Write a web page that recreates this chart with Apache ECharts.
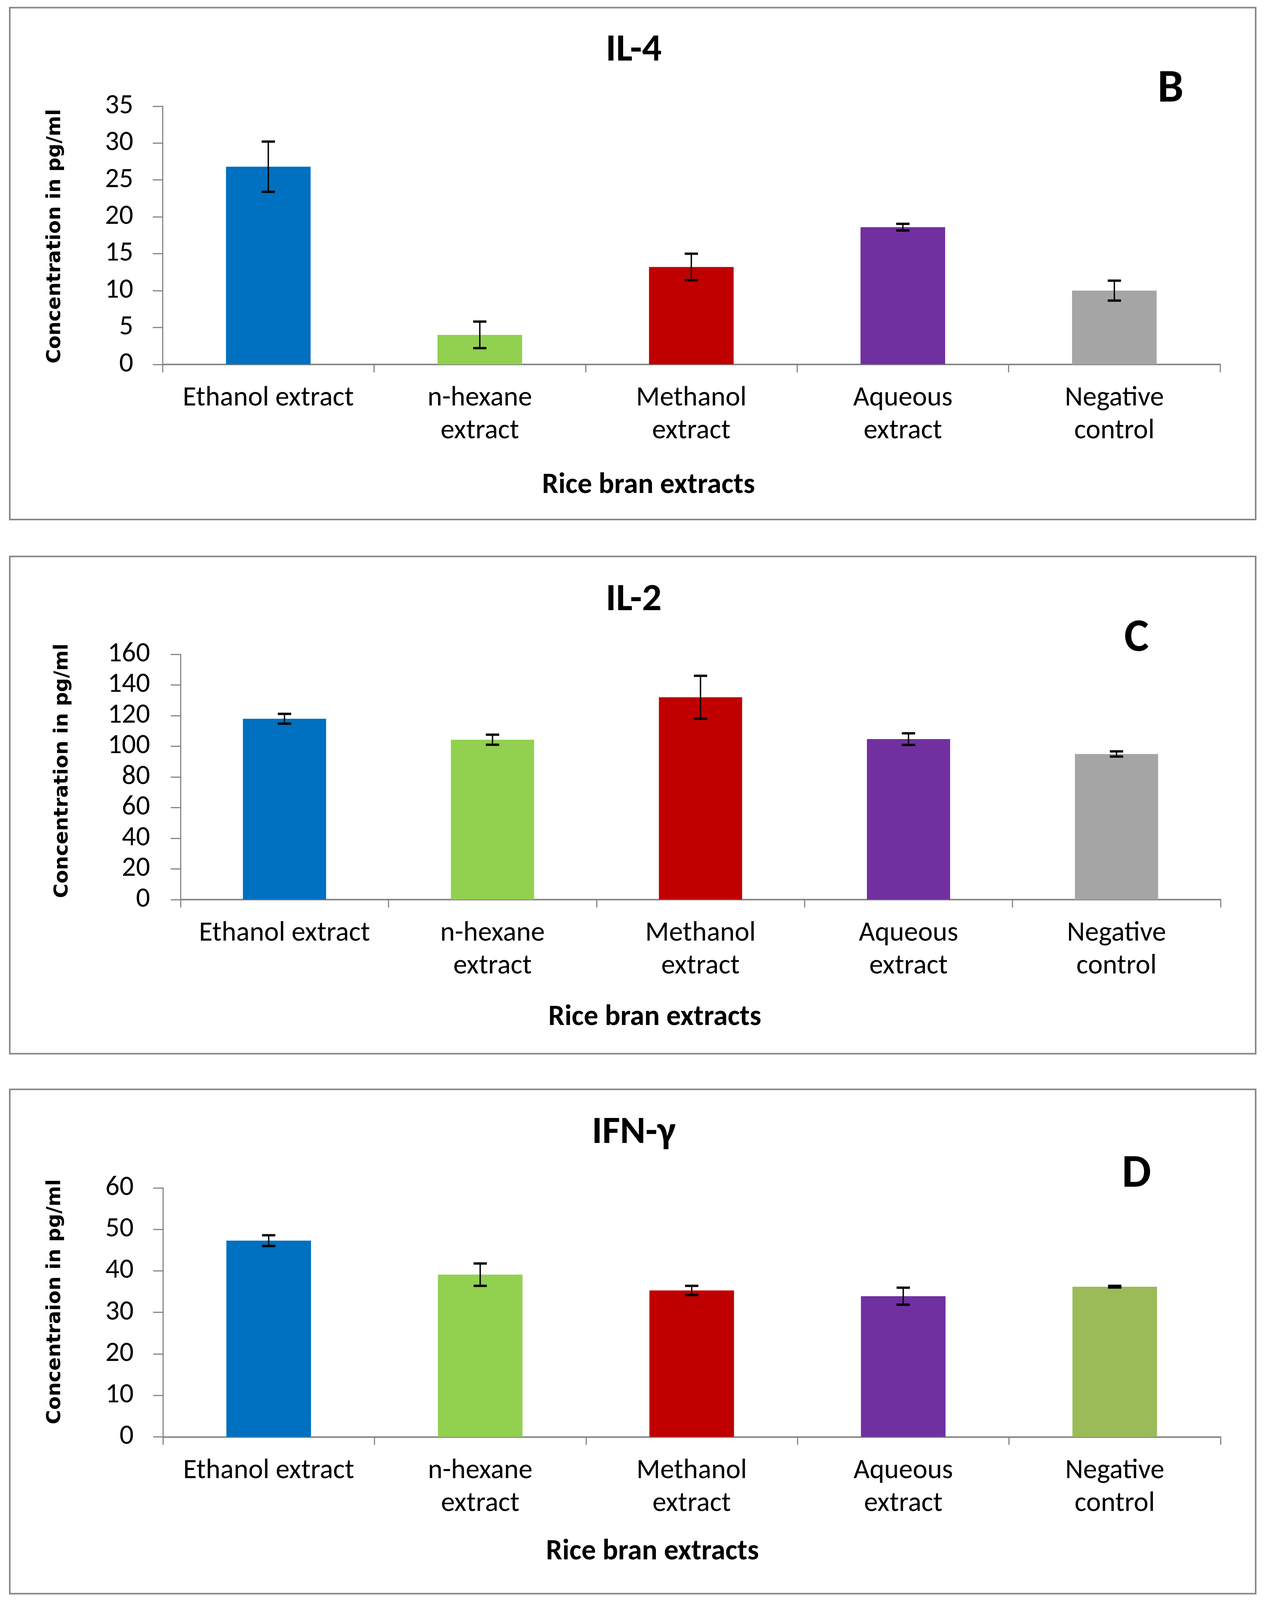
<!DOCTYPE html>
<html>
<head>
<meta charset="utf-8">
<script src="https://cdn.jsdelivr.net/npm/echarts@6/dist/echarts.min.js"></script>
<style>
html,body{margin:0;padding:0;background:#fff;overflow:hidden;}
</style>
</head>
<body>
<div id="c"></div>
<script>
// ---- data ----
const categories = ['Ethanol extract', 'n-hexane\nextract', 'Methanol\nextract', 'Aqueous\nextract', 'Negative\ncontrol'];

const il4Means  = [26.8, 4.0, 13.2, 18.6, 10.0];
const il4Errors = [3.4, 1.8, 1.8, 0.45, 1.35];

const il2Means  = [118.0, 104.3, 132.0, 104.7, 95.0];
const il2Errors = [3.2, 3.3, 14.0, 3.8, 1.7];

const ifnMeans  = [47.3, 39.1, 35.3, 33.9, 36.2];
const ifnErrors = [1.3, 2.7, 1.1, 2.05, 0.2];

const il4Ticks = {min: 0, max: 35, interval: 5};
const il2Ticks = {min: 0, max: 160, interval: 20};
const ifnTicks = {min: 0, max: 60, interval: 10};

const barColorsA = ['#0070C0', '#92D050', '#C00000', '#7030A0', '#A5A5A5'];
const barColorsB = ['#0070C0', '#92D050', '#C00000', '#7030A0', '#9BBB59'];

const panelTitles = ['IL-4', 'IL-2', 'IFN-γ'];
const panelLetters = ['B', 'C', 'D'];
const yTitles = ['Concentration in pg/ml', 'Concentration in pg/ml', 'Concentraion in pg/ml'];
const xTitle = 'Rice bran extracts';

// ---- layout (designed on a 3243 x 5032 canvas, fitted to the actual viewport) ----
const REF_W = 3243, REF_H = 5032;
const W = window.innerWidth || REF_W;
const H = Math.min(window.innerHeight || REF_H, REF_H);
const sx = W / REF_W, sy = H / REF_H;
const fs = Math.sqrt(sx * sy);          // horizontal text
const fv = Math.min(sx, sy);            // rotated (vertical) text
const X = v => v * sx, Y = v => v * sy, F = v => v * fs, FV = v => v * fv;

const el = document.getElementById('c');
el.style.width = W + 'px';
el.style.height = H + 'px';

const GRAY = '#878787';
const LABEL_FONT = 'Carlito, Lato, sans-serif';
const panels = [
  {box:[25,24,3189,1610], grid:{left:416, top:334, width:2707, height:812},
   title:[1622,160], letter:[2996,283], xt:[1660,1528], yt:[141,743], ylm:75,
   means:il4Means, errs:il4Errors, ticks:il4Ticks, colors:barColorsA},
  {box:[25,1750,3189,1564], grid:{left:462, top:2058, width:2662, height:771},
   title:[1622,1888], letter:[2909,2010], xt:[1676,3201], yt:[160,2424], ylm:78,
   means:il2Means, errs:il2Errors, ticks:il2Ticks, colors:barColorsA},
  {box:[25,3426,3189,1586], grid:{left:417, top:3736, width:2707, height:783},
   title:[1622,3564], letter:[2909,3696], xt:[1670,4881], yt:[141,4094], ylm:75,
   means:ifnMeans, errs:ifnErrors, ticks:ifnTicks, colors:barColorsB}
];

const chart = echarts.init(el, null, {renderer:'canvas', width:W, height:H});

const grids = [], xAxes = [], yAxes = [], series = [], graphics = [];

panels.forEach((p, i) => {
  grids.push({left:X(p.grid.left), top:Y(p.grid.top), width:X(p.grid.width), height:Y(p.grid.height), containLabel:false});
  xAxes.push({
    type:'category', gridIndex:i, data:categories,
    axisLine:{show:true, lineStyle:{color:GRAY, width:4}},
    axisTick:{show:true, length:Y(25), lineStyle:{color:GRAY, width:3}},
    axisLabel:{interval:0, color:'#000', fontSize:F(79), lineHeight:Y(103), margin:Y(56), fontFamily:LABEL_FONT},
    splitLine:{show:false}
  });
  yAxes.push({
    type:'value', gridIndex:i, min:p.ticks.min, max:p.ticks.max, interval:p.ticks.interval,
    axisLine:{show:true, lineStyle:{color:GRAY, width:3}},
    axisTick:{show:true, length:X(25), lineStyle:{color:GRAY, width:3}},
    axisLabel:{color:'#000', fontSize:F(79), margin:X(p.ylm), fontFamily:LABEL_FONT},
    splitLine:{show:false}
  });
  series.push({
    type:'bar', xAxisIndex:i, yAxisIndex:i, barWidth:'40%',
    data:p.means.map((v, k) => ({value:v, itemStyle:{color:p.colors[k]}})),
    silent:true, animation:false
  });
  series.push({
    type:'custom', xAxisIndex:i, yAxisIndex:i, animation:false, silent:true, z:5,
    data:p.means.map((v, k) => [k, v, p.errs[k]]),
    renderItem:(params, api) => {
      const x = api.value(0), m = api.value(1), e = api.value(2);
      const hi = api.coord([x, m + e]);
      const lo = api.coord([x, m - e]);
      const hw = X(17);
      return {type:'group', children:[
        {type:'line', shape:{x1:hi[0], y1:hi[1], x2:lo[0], y2:lo[1]}, style:{stroke:'#000', lineWidth:3.5}},
        {type:'line', shape:{x1:hi[0]-hw, y1:hi[1], x2:hi[0]+hw, y2:hi[1]}, style:{stroke:'#000', lineWidth:6}},
        {type:'line', shape:{x1:lo[0]-hw, y1:lo[1], x2:lo[0]+hw, y2:lo[1]}, style:{stroke:'#000', lineWidth:6}}
      ]};
    }
  });
  graphics.push({type:'rect', shape:{x:X(p.box[0]), y:Y(p.box[1]), width:X(p.box[2]), height:Y(p.box[3])},
    style:{fill:null, stroke:GRAY, lineWidth:4}, silent:true, z:-1});
  graphics.push({type:'text', x:X(p.title[0]), y:Y(p.title[1]), silent:true,
    style:{text:panelTitles[i], font:'bold ' + F(110) + 'px ' + LABEL_FONT, fill:'#000', textAlign:'center', textVerticalAlign:'middle'}});
  graphics.push({type:'text', x:X(p.letter[0]), y:Y(p.letter[1]), silent:true,
    style:{text:panelLetters[i], font:'bold ' + F(132) + 'px ' + LABEL_FONT, fill:'#000', textAlign:'center', textVerticalAlign:'middle'}});
  graphics.push({type:'text', x:X(p.xt[0]), y:Y(p.xt[1]), silent:true,
    style:{text:xTitle, font:'bold ' + F(82) + 'px ' + LABEL_FONT, fill:'#000', textAlign:'center', textVerticalAlign:'middle'}});
  graphics.push({type:'text', x:X(p.yt[0]), y:Y(p.yt[1]), rotation:Math.PI/2, silent:true,
    style:{text:yTitles[i], font:'bold ' + FV(62) + 'px "DejaVu Sans", sans-serif', fill:'#000', textAlign:'center', textVerticalAlign:'middle'}});
});

chart.setOption({
  backgroundColor:'#fff',
  animation:false,
  grid:grids, xAxis:xAxes, yAxis:yAxes, series:series,
  graphic:{elements:graphics}
});
</script>
</body>
</html>
